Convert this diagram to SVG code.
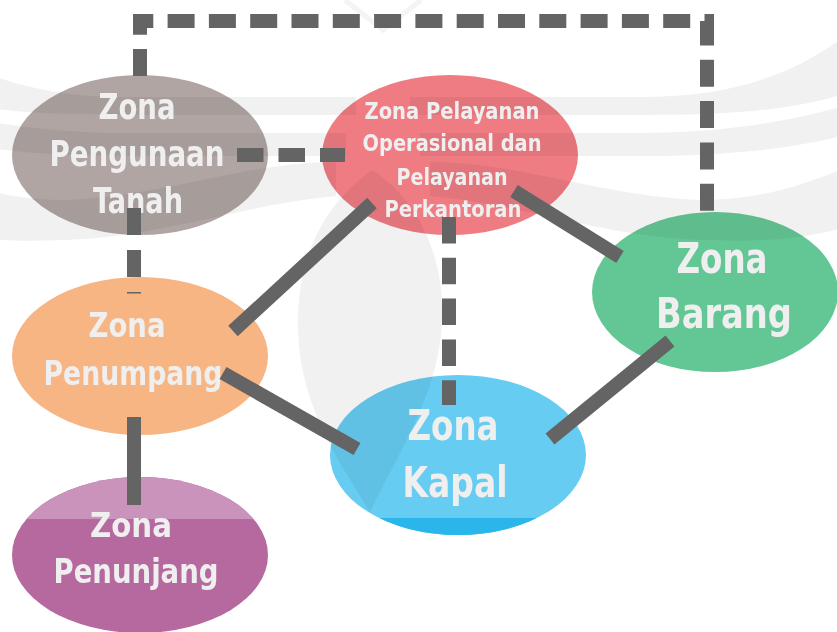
<svg xmlns="http://www.w3.org/2000/svg" width="837" height="632" viewBox="0 0 837 632">
  <defs>
    <style>
      .zone { mix-blend-mode: multiply; }
      .lbl { font-family: "Liberation Sans Narrow", "DejaVu Sans Condensed", "Liberation Sans", sans-serif; font-weight: bold; fill: #f0efef; text-anchor: middle; }
      .wm { fill: #f1f1f1; }
      .edge { fill: none; stroke: #646464; stroke-width: 14; stroke-linecap: butt; stroke-linejoin: miter; }
      .dash { stroke-dasharray: 27 14.3; }
    </style>
    <clipPath id="clip-kapal">
      <ellipse cx="458" cy="455" rx="128" ry="80"/>
    </clipPath>
    <clipPath id="clip-penunjang">
      <ellipse cx="140" cy="555" rx="128" ry="78"/>
    </clipPath>
    <g id="wing">
      <path d="M410,97 L640,97 C720,97 790,80 850,32 L850,92 C790,112 720,115 640,115 L410,115 Z"/>
      <path d="M420,133 L640,133 C720,133 790,122 850,104 L850,134 C790,150 720,156 640,156 L420,156 Z"/>
      <path d="M430,162 C520,162 600,196 700,200 C760,200 800,186 850,166 L850,226 C800,240 760,242 700,240 C600,236 520,204 430,196 Z"/>
    </g>
  </defs>

  <rect width="837" height="632" fill="#ffffff"/>

  <!-- faint emblem in the background -->
  <g id="emblem" class="wm">
    <use href="#wing"/>
    <use href="#wing" transform="translate(766,0) scale(-1,1)"/>
    <path d="M370,512 C345,470 300,410 298,330 C296,250 330,200 372,170 C420,200 445,260 442,320 C440,390 400,450 370,512 Z"/>
    <path d="M345,0 L383,30 L421,0" fill="none" stroke="#f4f4f4" stroke-width="5"/>
  </g>

  <g id="zona-pengunaan-tanah">
    <ellipse class="zone" cx="140" cy="155" rx="128" ry="80" fill="#b0a5a2"/>
    <text class="lbl" font-size="35" x="137" y="119" textLength="77" lengthAdjust="spacingAndGlyphs">Zona</text>
    <text class="lbl" font-size="35" x="137" y="166" textLength="175" lengthAdjust="spacingAndGlyphs">Pengunaan</text>
    <text class="lbl" font-size="35" x="138" y="213" textLength="90" lengthAdjust="spacingAndGlyphs">Tanah</text>
  </g>

  <g id="zona-pelayanan">
    <ellipse class="zone" cx="450" cy="155" rx="128" ry="80" fill="#ef7c82"/>
    <text class="lbl" font-size="23" x="452" y="119" textLength="175" lengthAdjust="spacingAndGlyphs">Zona Pelayanan</text>
    <text class="lbl" font-size="23" x="452" y="151" textLength="179" lengthAdjust="spacingAndGlyphs">Operasional dan</text>
    <text class="lbl" font-size="23" x="452" y="185" textLength="111" lengthAdjust="spacingAndGlyphs">Pelayanan</text>
    <text class="lbl" font-size="23" x="453" y="217" textLength="137" lengthAdjust="spacingAndGlyphs">Perkantoran</text>
  </g>

  <g id="zona-barang">
    <ellipse class="zone" cx="715" cy="292" rx="123" ry="80" fill="#63c795"/>
    <text class="lbl" font-size="42" x="722" y="273" textLength="91" lengthAdjust="spacingAndGlyphs">Zona</text>
    <text class="lbl" font-size="42" x="724" y="328" textLength="136" lengthAdjust="spacingAndGlyphs">Barang</text>
  </g>

  <g id="zona-kapal">
    <ellipse class="zone" cx="458" cy="455" rx="128" ry="80" fill="#66ccf2"/>
    <rect x="330" y="518" width="256" height="20" fill="#2ab6eb" clip-path="url(#clip-kapal)"/>
    <text class="lbl" font-size="42" x="453" y="440" textLength="91" lengthAdjust="spacingAndGlyphs">Zona</text>
    <text class="lbl" font-size="42" x="455" y="497" textLength="105" lengthAdjust="spacingAndGlyphs">Kapal</text>
  </g>

  <g id="zona-penumpang">
    <ellipse class="zone" cx="140" cy="356" rx="128" ry="79" fill="#f6b583"/>
    <text class="lbl" font-size="34" x="127" y="337" textLength="77" lengthAdjust="spacingAndGlyphs">Zona</text>
    <text class="lbl" font-size="34" x="133" y="385" textLength="179" lengthAdjust="spacingAndGlyphs">Penumpang</text>
  </g>

  <g id="zona-penunjang">
    <ellipse class="zone" cx="140" cy="555" rx="128" ry="78" fill="#b5699f"/>
    <rect x="12" y="476" width="256" height="43" fill="#c993bb" clip-path="url(#clip-penunjang)"/>
    <text class="lbl" font-size="33" x="131" y="537" textLength="82" lengthAdjust="spacingAndGlyphs">Zona</text>
    <text class="lbl" font-size="33" x="136" y="583" textLength="165" lengthAdjust="spacingAndGlyphs">Penunjang</text>
  </g>

  <g id="connectors">
    <path class="edge dash" d="M140,76 V21 H707 V212"/>
    <path class="edge" d="M237,155 H345" stroke-dasharray="26.5 15"/>
    <path class="edge" d="M134,208 V293.5" stroke-dasharray="27 15"/>
    <path class="edge" d="M449,217 V405" stroke-dasharray="26.5 14.3"/>
    <path class="edge" d="M372,203 L233,331"/>
    <path class="edge" d="M514,191 L620,257"/>
    <path class="edge" d="M223,373 L357,449"/>
    <path class="edge" d="M670,341 L550,439"/>
    <path class="edge" d="M134,417 V505"/>
  </g>
</svg>
